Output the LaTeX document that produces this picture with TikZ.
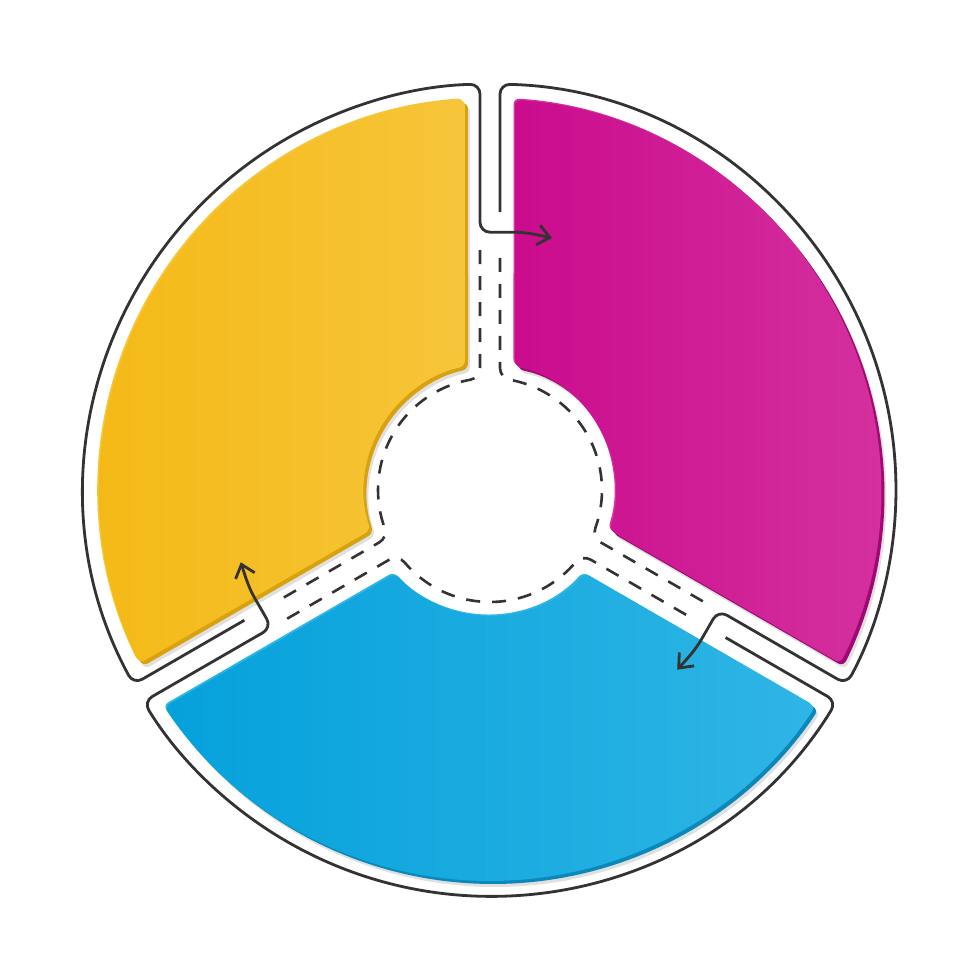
\documentclass[tikz,border=0pt]{standalone}
\usepackage{tikz}
\usetikzlibrary{arrows.meta}

\definecolor{yelmain}{HTML}{F4B915}
\definecolor{yellite}{HTML}{F6C53A}
\definecolor{yeldark}{HTML}{D8A10E}
\definecolor{magmain}{HTML}{CA0C8D}
\definecolor{maglite}{HTML}{D5329F}
\definecolor{magdark}{HTML}{A10873}
\definecolor{cyamain}{HTML}{05A1DB}
\definecolor{cyalite}{HTML}{2FB5E5}
\definecolor{cyadark}{HTML}{0A88B9}

% one coloured ring piece, #1 = angle of its first gap
\newcommand{\sectorshape}[1]{({#1+3.67}:391) arc[start angle={#1+3.67}, end angle={#1+116.33}, radius=391]
  -- ({#1+108.56}:126) arc[start angle={#1+108.56}, end angle={#1+11.44}, radius=126] -- cycle}

\begin{document}
\begin{tikzpicture}
[x=0.5pt, y=0.5pt,
piece/.style={rounded corners=3pt},
outline/.style={draw=black!80, line width=1.4pt, rounded corners=5pt},
flow/.style={-{Straight Barb[length=6pt,width=10pt]}},
hubline/.style={draw=black!80, line width=1.3pt, dash pattern=on 7pt off 6pt},
]
\fill[white] (-490,-490) rectangle (490,490);

% coloured pieces
\foreach \g/\cm/\cl/\cd in {90/yelmain/yellite/yeldark, 210/cyamain/cyalite/cyadark, 330/magmain/maglite/magdark}{
  \fill[piece, black, opacity=0.12, shift={(5,-6)}] \sectorshape{\g};
  \fill[piece, \cd, shift={(3,-3)}] \sectorshape{\g};
  \fill[piece, \cl, shift={(-1.5,1.5)}] \sectorshape{\g};
  \shade[piece, left color=\cm, right color=\cl] \sectorshape{\g};
}

% outlines turning into arrows
\foreach \g in {90,210,330}
  \draw[outline, flow, rotate=\g-90] (207.94:278) -- (208.59:406)
    arc[start angle=208.59, end angle=91.41, radius=406] -- (-10,257.8)
    [rounded corners=1.5pt] -- (20,257.8) to[out=0,in=168] (62,252);

% dashed hub
\foreach \g in {90,210,330}
  \draw[hubline] ({\g+2.39}:240.2) -- ({\g+4.68}:122.44)
    arc[start angle={\g-90}, end angle={\g-169.78}, radius=12]
    arc[start angle={\g+10.22}, end angle={\g+109.78}, radius=112]
    arc[start angle={\g+289.78}, end angle={\g+210}, radius=12] -- ({\g+117.61}:240.2);
\end{tikzpicture}
\end{document}
